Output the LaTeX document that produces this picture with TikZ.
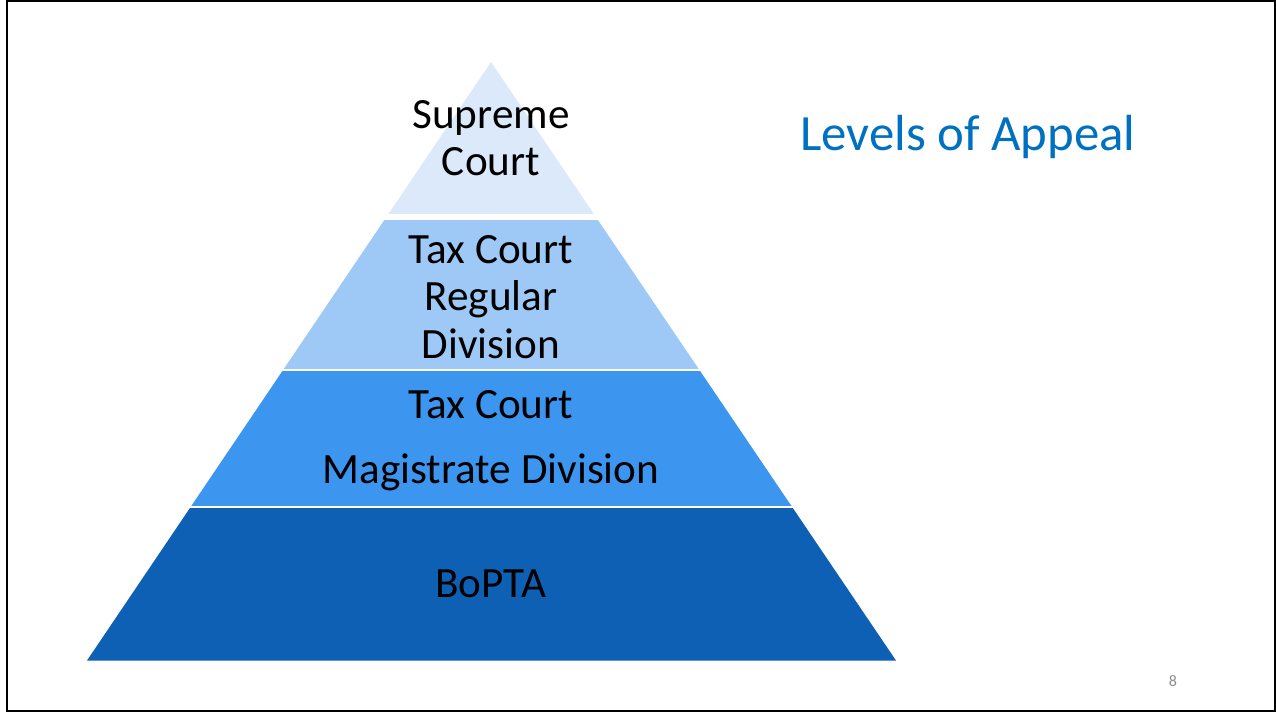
\documentclass[tikz,border=0pt]{standalone}
\usepackage{fontspec}
\setmainfont{Carlito}
\usetikzlibrary{positioning}

% layer colours, light to dark
\definecolor{lvlone}{RGB}{219,233,250}
\definecolor{lvltwo}{RGB}{158,201,247}
\definecolor{lvlthree}{RGB}{60,150,240}
\definecolor{lvlfour}{RGB}{14,96,180}
\definecolor{titleblue}{RGB}{0,112,192}

\tikzset{
  layertext/.style={align=center, text=black,
    font=\fontsize{21.6}{23.75}\selectfont},
}

\begin{document}
\begin{tikzpicture}[x=0.5pt, y=-0.5pt]
\useasboundingbox (0,0) rectangle (1276,713);

% Slide frame
\draw[black, line width=1.3pt] (7,1) rectangle (1275,711);

% Pyramid bands, cut to the triangle
\begin{scope}
  \clip (491,62) -- (896,660.5) -- (87,660.5) -- cycle;
  \fill[lvlone]   (0,50)    rectangle (1276,214);
  \fill[lvltwo]   (0,219.5) rectangle (1276,369);
  \fill[lvlthree] (0,371)   rectangle (1276,505.5);
  \fill[lvlfour]  (0,507.5) rectangle (1276,661);
\end{scope}

% Labels
\node[layertext] (supreme) at (491,138) {Supreme\\Court};
\node[layertext] (regular) at (491,297) {Tax Court\\Regular\\Division};
\node[layertext] (magistrate) at (491,441) {Tax Court\\[8.75pt]Magistrate Division};
\node[layertext] (bopta) at (491,584) {BoPTA};

% Title and page number
\node[text=titleblue, font=\fontsize{25.4}{30}\selectfont] (title) at (968,137) {Levels of Appeal};
\node[text=black!45, font=\fontsize{8}{10}\selectfont] (pagenum) at (1173,681) {8};
\end{tikzpicture}
\end{document}
